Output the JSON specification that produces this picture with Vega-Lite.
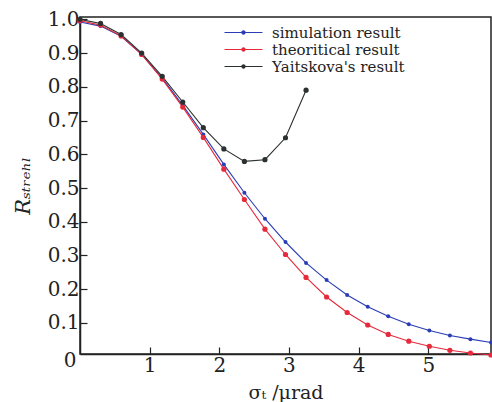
{
  "$schema": "https://vega.github.io/schema/vega-lite/v6.json",
  "width": 411,
  "height": 337,
  "autosize": {"type": "none"},
  "padding": {"left": 80, "top": 17, "right": 1, "bottom": 48},
  "background": "white",
  "config": {
    "view": {"stroke": "#222", "strokeWidth": 1.5},
    "font": "DejaVu Serif",
    "axis": {"labelFont": "DejaVu Serif", "titleFont": "DejaVu Serif", "labelColor": "#222", "titleColor": "#222", "domainColor": "#222", "tickColor": "#222", "grid": false, "domainWidth": 1.5, "tickWidth": 1.2}
  },
  "data": {"values": [
    {"s": "simulation result", "x": 0.0, "y": 0.992},
    {"s": "simulation result", "x": 0.295, "y": 0.980},
    {"s": "simulation result", "x": 0.59, "y": 0.950},
    {"s": "simulation result", "x": 0.885, "y": 0.896},
    {"s": "simulation result", "x": 1.18, "y": 0.826},
    {"s": "simulation result", "x": 1.475, "y": 0.745},
    {"s": "simulation result", "x": 1.77, "y": 0.659},
    {"s": "simulation result", "x": 2.065, "y": 0.570},
    {"s": "simulation result", "x": 2.36, "y": 0.486},
    {"s": "simulation result", "x": 2.655, "y": 0.409},
    {"s": "simulation result", "x": 2.95, "y": 0.340},
    {"s": "simulation result", "x": 3.245, "y": 0.278},
    {"s": "simulation result", "x": 3.54, "y": 0.227},
    {"s": "simulation result", "x": 3.835, "y": 0.183},
    {"s": "simulation result", "x": 4.13, "y": 0.148},
    {"s": "simulation result", "x": 4.425, "y": 0.120},
    {"s": "simulation result", "x": 4.72, "y": 0.096},
    {"s": "simulation result", "x": 5.015, "y": 0.0775},
    {"s": "simulation result", "x": 5.31, "y": 0.063},
    {"s": "simulation result", "x": 5.605, "y": 0.052},
    {"s": "simulation result", "x": 5.9, "y": 0.042},
    {"s": "theoritical result", "x": 0.0, "y": 0.996},
    {"s": "theoritical result", "x": 0.295, "y": 0.983},
    {"s": "theoritical result", "x": 0.59, "y": 0.951},
    {"s": "theoritical result", "x": 0.885, "y": 0.896},
    {"s": "theoritical result", "x": 1.18, "y": 0.823},
    {"s": "theoritical result", "x": 1.475, "y": 0.740},
    {"s": "theoritical result", "x": 1.77, "y": 0.650},
    {"s": "theoritical result", "x": 2.065, "y": 0.556},
    {"s": "theoritical result", "x": 2.36, "y": 0.466},
    {"s": "theoritical result", "x": 2.655, "y": 0.378},
    {"s": "theoritical result", "x": 2.95, "y": 0.303},
    {"s": "theoritical result", "x": 3.245, "y": 0.235},
    {"s": "theoritical result", "x": 3.54, "y": 0.177},
    {"s": "theoritical result", "x": 3.835, "y": 0.131},
    {"s": "theoritical result", "x": 4.13, "y": 0.094},
    {"s": "theoritical result", "x": 4.425, "y": 0.066},
    {"s": "theoritical result", "x": 4.72, "y": 0.046},
    {"s": "theoritical result", "x": 5.015, "y": 0.031},
    {"s": "theoritical result", "x": 5.31, "y": 0.019},
    {"s": "theoritical result", "x": 5.605, "y": 0.011},
    {"s": "theoritical result", "x": 5.9, "y": 0.005},
    {"s": "Yaitskova's result", "x": 0.0, "y": 1.0},
    {"s": "Yaitskova's result", "x": 0.295, "y": 0.988},
    {"s": "Yaitskova's result", "x": 0.59, "y": 0.955},
    {"s": "Yaitskova's result", "x": 0.885, "y": 0.900},
    {"s": "Yaitskova's result", "x": 1.18, "y": 0.831},
    {"s": "Yaitskova's result", "x": 1.475, "y": 0.755},
    {"s": "Yaitskova's result", "x": 1.77, "y": 0.679},
    {"s": "Yaitskova's result", "x": 2.065, "y": 0.616},
    {"s": "Yaitskova's result", "x": 2.36, "y": 0.579},
    {"s": "Yaitskova's result", "x": 2.655, "y": 0.584},
    {"s": "Yaitskova's result", "x": 2.95, "y": 0.649},
    {"s": "Yaitskova's result", "x": 3.245, "y": 0.790}
  ]},
  "encoding": {
    "x": {"field": "x", "type": "quantitative",
      "scale": {"domain": [0, 5.9], "nice": false, "zero": false},
      "axis": {"values": [0, 1, 2, 3, 4, 5], "format": "d", "tickSize": -7, "labelFontSize": 20,
        "labelPadding": {"condition": {"test": "datum.value === 0", "value": 3}, "value": 8},
        "labelAlign": {"condition": {"test": "datum.value === 0", "value": "right"}, "value": "center"},
        "labelOffset": {"condition": {"test": "datum.value === 0", "value": -4}, "value": 0},
        "tickColor": {"condition": {"test": "datum.value === 0", "value": "transparent"}, "value": "#222"},
        "title": "σₜ /μrad", "titleFontSize": 19, "titleFontWeight": "normal", "titlePadding": 8}},
    "y": {"field": "y", "type": "quantitative",
      "scale": {"domain": [0.008, 1.007], "nice": false, "zero": false},
      "axis": {"values": [0.1, 0.2, 0.3, 0.4, 0.5, 0.6, 0.7, 0.8, 0.9, 1.0],
        "format": ".1f",
        "tickSize": -7, "labelPadding": 8, "labelFontSize": 20,
        "title": "Rₛₜᵣₑₕₗ", "titleFontSize": 21, "titleFontStyle": "italic", "titleFontWeight": "normal", "titlePadding": 14}}
  },
  "layer": [
    {"mark": {"type": "line", "strokeWidth": 1.1},
     "encoding": {"color": {"field": "s", "type": "nominal",
        "scale": {"domain": ["simulation result", "theoritical result", "Yaitskova's result"], "range": ["#2a3db5", "#e52a3c", "#2b3030"]},
        "legend": {"title": null, "orient": "none", "legendX": 156, "legendY": 8,
          "labelFont": "DejaVu Serif", "labelFontSize": 15, "labelColor": "#222",
          "symbolType": "M-3.8,-0.11L3.8,-0.11L3.8,0.11L-3.8,0.11ZM-0.44,0a0.44,0.44 0 1,1 0.88,0a0.44,0.44 0 1,1 -0.88,0",
          "symbolSize": 100, "symbolStrokeWidth": 0, "rowPadding": 1, "labelOffset": 21,
          "encode": {"symbols": {"update": {"size": {"value": 100}, "fill": {"signal": "scale('color', datum.value)"}, "fillOpacity": {"value": 1}, "opacity": {"value": 1}}}}}}}},
    {"transform": [{"filter": "datum.s === 'simulation result'"}],
     "mark": {"type": "point", "filled": true, "opacity": 1, "size": 16},
     "encoding": {"color": {"field": "s", "type": "nominal", "legend": null}}},
    {"transform": [{"filter": "datum.s !== 'simulation result'"}],
     "mark": {"type": "point", "filled": true, "opacity": 1, "size": 27},
     "encoding": {"color": {"field": "s", "type": "nominal", "legend": null}}}
  ]
}
